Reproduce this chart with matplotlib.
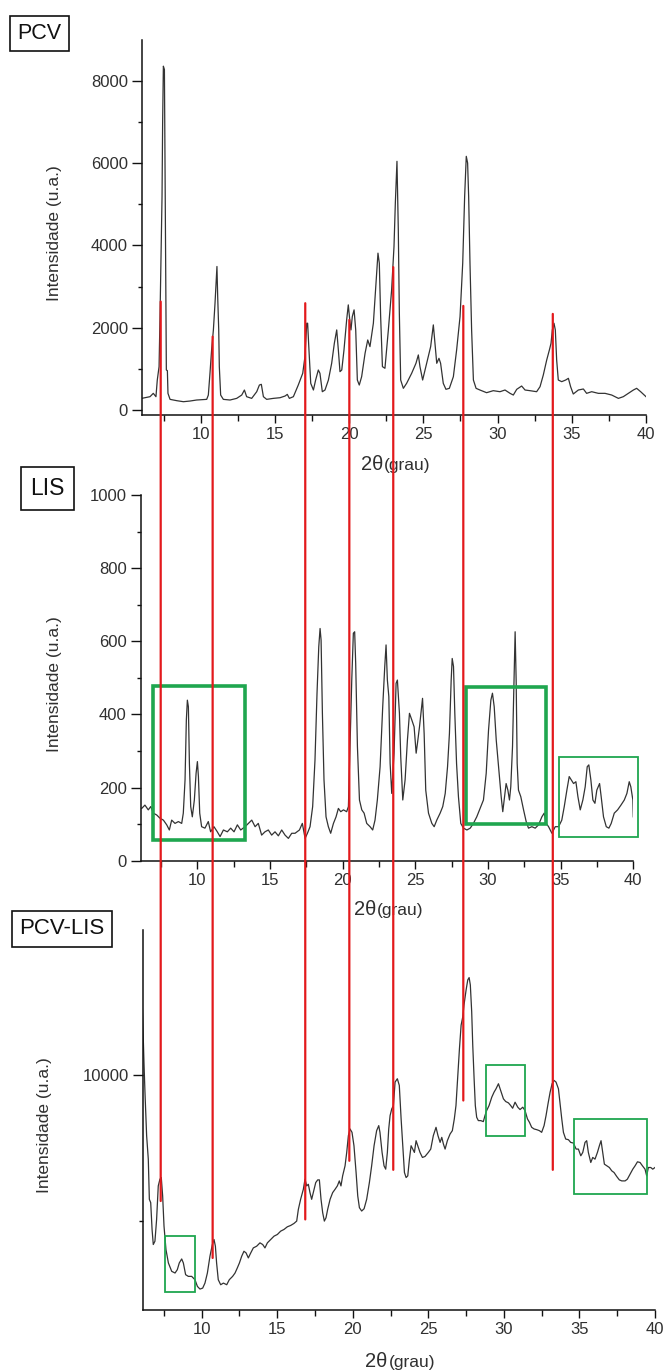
import matplotlib
matplotlib.use("Agg")
import matplotlib.pyplot as plt
from matplotlib.patches import Rectangle, ConnectionPatch
from matplotlib.ticker import MultipleLocator
from matplotlib.transforms import blended_transform_factory

plt.rcParams["font.family"] = ["Liberation Sans", "DejaVu Sans"]

# ---------------- PCV diffractogram ----------------
pcv_2theta = [
    6.02, 6.58, 6.80, 6.98, 7.07, 7.19, 7.25, 7.32, 7.39, 7.43,
    7.48, 7.55, 7.59, 7.63, 7.68, 7.75, 7.79, 7.93, 8.38, 8.83,
    9.27, 9.72, 10.40, 10.51, 10.62, 10.73, 10.85, 10.96, 11.03, 11.09,
    11.14, 11.21, 11.25, 11.34, 11.52, 11.97, 12.42, 12.76, 12.94, 13.09,
    13.43, 13.77, 13.95, 14.08, 14.22, 14.44, 14.89, 15.34, 15.68, 15.83,
    15.97, 16.24, 16.57, 16.87, 17.02, 17.14, 17.20, 17.29, 17.41, 17.59,
    17.74, 17.92, 18.03, 18.19, 18.37, 18.60, 18.82, 19.00, 19.16, 19.27,
    19.38, 19.50, 19.65, 19.83, 19.94, 20.06, 20.12, 20.21, 20.33, 20.44,
    20.55, 20.68, 20.84, 21.07, 21.25, 21.40, 21.63, 21.81, 21.94, 22.03,
    22.12, 22.24, 22.41, 22.64, 22.86, 23.02, 23.11, 23.22, 23.31, 23.38,
    23.47, 23.65, 23.87, 24.21, 24.50, 24.66, 24.77, 24.95, 25.22, 25.49,
    25.67, 25.78, 25.90, 26.05, 26.16, 26.34, 26.52, 26.75, 27.02, 27.24,
    27.47, 27.65, 27.78, 27.89, 27.98, 28.05, 28.14, 28.25, 28.37, 28.55,
    28.81, 29.26, 29.71, 30.16, 30.50, 30.84, 31.06, 31.29, 31.62, 31.85,
    32.18, 32.63, 32.86, 33.08, 33.31, 33.49, 33.60, 33.69, 33.80, 33.89,
    33.98, 34.09, 34.32, 34.59, 34.77, 34.92, 35.10, 35.44, 35.78, 36.00,
    36.34, 36.79, 37.24, 37.69, 38.14, 38.47, 38.81, 39.15, 39.37, 39.64,
    40.00,
]
pcv_intensity = [
    284, 325, 406, 325, 730, 1055, 2190, 3731, 5190, 6975,
    8354, 8273, 6002, 3569, 973, 958, 406, 260, 228, 203,
    219, 244, 260, 365, 893, 1460, 1947, 2596, 3082, 3488,
    2758, 1947, 1055, 365, 260, 244, 284, 365, 487, 325,
    284, 446, 608, 625, 325, 260, 284, 300, 341, 381,
    284, 325, 608, 893, 1298, 2109, 2109, 1460, 649, 487,
    730, 973, 893, 446, 487, 730, 1136, 1622, 1947, 1460,
    933, 973, 1460, 2190, 2555, 2109, 1947, 2271, 2434, 1947,
    730, 608, 811, 1379, 1703, 1541, 2109, 3082, 3812, 3569,
    2271, 1055, 1015, 1947, 2920, 3974, 5029, 6043, 4380, 2353,
    730, 528, 649, 893, 1136, 1339, 1055, 730, 1136, 1541,
    2069, 1622, 1136, 1257, 1136, 649, 504, 528, 811, 1460,
    2271, 3569, 5191, 6164, 6002, 5191, 3569, 1947, 730, 528,
    487, 422, 471, 446, 487, 406, 365, 504, 584, 487,
    471, 446, 568, 852, 1217, 1460, 1622, 1947, 2109, 1947,
    1217, 730, 690, 730, 771, 568, 390, 487, 512, 406,
    446, 406, 406, 365, 284, 325, 406, 487, 528, 446,
    325,
]

# ---------------- LIS diffractogram ----------------
lis_2theta = [
    6.18, 6.40, 6.63, 6.80, 6.98, 7.21, 7.44, 7.67, 7.90, 8.08,
    8.24, 8.47, 8.70, 8.93, 9.04, 9.16, 9.25, 9.32, 9.39, 9.46,
    9.55, 9.66, 9.80, 9.92, 10.01, 10.08, 10.17, 10.30, 10.53, 10.76,
    10.92, 11.15, 11.38, 11.57, 11.80, 12.07, 12.30, 12.53, 12.76, 12.99,
    13.29, 13.52, 13.75, 13.98, 14.20, 14.43, 14.66, 14.89, 15.12, 15.35,
    15.58, 15.81, 16.04, 16.27, 16.50, 16.73, 17.03, 17.23, 17.42, 17.58,
    17.76, 17.94, 18.10, 18.24, 18.36, 18.45, 18.52, 18.61, 18.72, 18.86,
    19.02, 19.18, 19.37, 19.55, 19.71, 19.87, 20.06, 20.28, 20.40, 20.51,
    20.63, 20.74, 20.83, 20.90, 21.02, 21.16, 21.32, 21.48, 21.66, 21.89,
    22.07, 22.23, 22.39, 22.58, 22.76, 22.90, 22.99, 23.08, 23.18, 23.27,
    23.38, 23.54, 23.68, 23.77, 23.91, 24.00, 24.14, 24.30, 24.46, 24.60,
    24.76, 24.92, 25.06, 25.15, 25.29, 25.50, 25.61, 25.72, 25.91, 26.14,
    26.30, 26.48, 26.71, 26.89, 27.06, 27.22, 27.35, 27.47, 27.54, 27.63,
    27.72, 27.84, 27.97, 28.13, 28.32, 28.55, 28.78, 29.00, 29.23, 29.46,
    29.69, 29.88, 30.04, 30.20, 30.31, 30.43, 30.57, 30.73, 30.91, 31.02,
    31.14, 31.25, 31.37, 31.48, 31.57, 31.69, 31.80, 31.87, 31.94, 32.01,
    32.10, 32.26, 32.45, 32.63, 32.79, 33.02, 33.25, 33.48, 33.71, 33.87,
    34.01, 34.17, 34.40, 34.63, 34.86, 35.08, 35.25, 35.43, 35.59, 35.73,
    35.89, 36.05, 36.19, 36.35, 36.53, 36.69, 36.83, 36.94, 37.08, 37.22,
    37.36, 37.49, 37.68, 37.79, 37.95, 38.14, 38.32, 38.48, 38.69, 38.92,
    39.15, 39.38, 39.56, 39.72, 39.83, 39.97, 40.00,
]
lis_intensity = [
    143, 152, 139, 148, 130, 125, 116, 111, 98, 84,
    111, 102, 107, 102, 130, 221, 385, 439, 421, 266,
    148, 120, 166, 239, 271, 230, 130, 93, 89, 107,
    79, 93, 79, 66, 84, 79, 89, 79, 98, 84,
    93, 102, 111, 93, 102, 70, 79, 84, 70, 79,
    68, 84, 70, 61, 75, 75, 84, 102, 61, 75,
    93, 148, 275, 458, 585, 635, 603, 403, 221, 120,
    93, 75, 102, 120, 143, 134, 139, 134, 148, 312,
    494, 622, 626, 540, 312, 166, 139, 130, 102, 93,
    84, 111, 166, 257, 421, 531, 590, 494, 449, 266,
    184, 294, 485, 494, 403, 284, 166, 221, 330, 403,
    385, 366, 294, 321, 366, 444, 348, 193, 130, 102,
    93, 111, 130, 148, 184, 257, 348, 494, 553, 531,
    403, 266, 175, 102, 89, 84, 89, 102, 120, 143,
    166, 239, 357, 439, 458, 421, 330, 257, 175, 134,
    175, 211, 193, 166, 202, 312, 512, 626, 494, 266,
    193, 175, 139, 107, 89, 93, 89, 98, 120, 130,
    102, 93, 75, 93, 93, 111, 148, 193, 230, 221,
    211, 216, 175, 139, 166, 202, 257, 262, 221, 166,
    157, 193, 211, 175, 120, 93, 89, 102, 130, 139,
    152, 166, 184, 216, 202, 166, 120,
]

# ---------------- PCV-LIS diffractogram ----------------
mix_2theta = [
    6.03, 6.10, 6.19, 6.25, 6.36, 6.47, 6.54, 6.63, 6.72, 6.80,
    6.91, 7.02, 7.13, 7.24, 7.33, 7.42, 7.51, 7.64, 7.80, 8.02,
    8.24, 8.39, 8.52, 8.68, 8.79, 8.94, 9.12, 9.34, 9.56, 9.72,
    9.89, 10.07, 10.22, 10.38, 10.55, 10.71, 10.82, 10.91, 10.99, 11.10,
    11.26, 11.44, 11.66, 11.83, 12.05, 12.21, 12.36, 12.50, 12.65, 12.80,
    12.94, 13.09, 13.25, 13.42, 13.64, 13.86, 14.04, 14.19, 14.35, 14.57,
    14.79, 15.01, 15.23, 15.45, 15.67, 15.89, 16.11, 16.29, 16.40, 16.55,
    16.73, 16.84, 16.95, 17.06, 17.17, 17.28, 17.39, 17.55, 17.68, 17.79,
    17.90, 18.01, 18.12, 18.23, 18.34, 18.50, 18.67, 18.83, 18.98, 19.11,
    19.22, 19.33, 19.49, 19.60, 19.71, 19.82, 19.95, 20.08, 20.22, 20.33,
    20.44, 20.59, 20.75, 20.92, 21.10, 21.25, 21.41, 21.58, 21.72, 21.80,
    21.94, 22.07, 22.18, 22.29, 22.38, 22.47, 22.58, 22.69, 22.80, 22.95,
    23.08, 23.20, 23.31, 23.42, 23.53, 23.64, 23.75, 23.86, 23.97, 24.08,
    24.19, 24.30, 24.45, 24.61, 24.78, 25.00, 25.16, 25.33, 25.51, 25.64,
    25.78, 25.89, 26.00, 26.11, 26.26, 26.44, 26.59, 26.72, 26.83, 26.95,
    27.06, 27.17, 27.28, 27.36, 27.50, 27.61, 27.70, 27.78, 27.87, 27.94,
    28.03, 28.11, 28.20, 28.31, 28.47, 28.64, 28.75, 28.86, 29.02, 29.20,
    29.35, 29.48, 29.64, 29.75, 29.86, 29.97, 30.12, 30.30, 30.45, 30.58,
    30.74, 30.92, 31.07, 31.25, 31.40, 31.56, 31.69, 31.84, 32.00, 32.17,
    32.35, 32.50, 32.66, 32.79, 32.92, 33.06, 33.19, 33.32, 33.45, 33.61,
    33.72, 33.83, 33.94, 34.09, 34.27, 34.42, 34.60, 34.78, 34.93, 35.09,
    35.22, 35.37, 35.48, 35.59, 35.75, 35.88, 36.03, 36.19, 36.32, 36.43,
    36.54, 36.65, 36.81, 36.98, 37.14, 37.29, 37.47, 37.64, 37.80, 38.02,
    38.17, 38.35, 38.53, 38.68, 38.84, 39.01, 39.17, 39.34, 39.45, 39.56,
    39.72, 39.85, 40.00,
]
mix_intensity = [
    13104, 11955, 10346, 9426, 7932, 7127, 5748, 5633, 4714, 4197,
    4311, 5058, 6208, 6438, 6495, 5863, 4829, 4024, 3564, 3277,
    3219, 3334, 3564, 3702, 3564, 3162, 3104, 3104, 2989, 2760,
    2668, 2702, 2874, 3219, 3794, 4197, 4369, 4139, 3564, 2989,
    2817, 2874, 2817, 2989, 3104, 3219, 3392, 3564, 3794, 3966,
    3909, 3737, 3909, 4081, 4139, 4254, 4197, 4081, 4254, 4369,
    4484, 4541, 4656, 4714, 4805, 4851, 4920, 5001, 5403, 5748,
    6093, 6438, 6208, 6265, 5978, 5748, 5978, 6323, 6415, 6415,
    5748, 5288, 5001, 5116, 5403, 5748, 5978, 6093, 6208, 6380,
    6208, 6553, 6897, 7357, 7932, 8162, 8047, 7587, 6668, 5863,
    5461, 5346, 5426, 5748, 6323, 6897, 7587, 8104, 8277, 8047,
    7357, 6897, 6783, 7357, 8162, 8621, 8851, 8966, 9771, 9886,
    9656, 8507, 7587, 6668, 6495, 6553, 7127, 7587, 7472, 7357,
    7760, 7587, 7357, 7185, 7219, 7357, 7472, 7932, 8219, 7932,
    7702, 7874, 7644, 7472, 7760, 7989, 8104, 8507, 8966, 10001,
    10920, 11725, 12012, 12415, 12932, 13277, 13357, 13104, 12185, 11035,
    9886, 8966, 8564, 8449, 8449, 8415, 8621, 8794, 8966, 9254,
    9426, 9541, 9714, 9541, 9369, 9196, 9104, 9058, 8966, 8874,
    9081, 8909, 8828, 8909, 8794, 8507, 8392, 8219, 8162, 8139,
    8104, 8047, 8277, 8621, 9024, 9426, 9714, 9828, 9771, 9541,
    9024, 8507, 8047, 7817, 7794, 7702, 7679, 7472, 7472, 7242,
    7357, 7702, 7760, 7357, 7012, 7185, 7127, 7357, 7587, 7760,
    7357, 6955, 6897, 6840, 6725, 6668, 6530, 6415, 6380, 6380,
    6438, 6610, 6783, 6897, 7035, 7012, 6897, 6783, 6553, 6840,
    6840, 6783, 6840,
]

# Reference reflections of PCV carried down through all patterns
ref_2theta = [7.30, 10.80, 17.04, 20.01, 22.97, 27.69, 33.72]
ref_top_pcv = [2635, 1783, 2596, 2190, 3472, 2530, 2336]
ref_bottom_mix = [5690, 3736, 5058, 7070, 6760, 9139, 6760]

# Highlighted regions: (2θ start, 2θ end, intensity low, intensity high)
lis_boxes_bold = [(6.98, 13.31, 57, 478), (28.50, 33.98, 99, 474)]
lis_boxes_thin = [(34.90, 40.29, 66, 284)]
mix_boxes = [(7.60, 9.56, 2566, 4483), (28.82, 31.40, 7910, 10345),
             (34.66, 39.46, 5921, 8507)]

panel_names = ["PCV", "LIS", "PCV-LIS"]
y_title = "Intensidade (u.a.)"

LINE_C = "#333333"
TXT_C = "#303030"
GREEN = "#1fa64f"
RED = "#e3191c"

W, H = 666, 1371
fig = plt.figure(figsize=(W / 100, H / 100), dpi=100)


def px_axes(left, top, right, bottom):
    return fig.add_axes([left / W, 1 - bottom / H, (right - left) / W, (bottom - top) / H])


ax1 = px_axes(142, 40, 646, 415)
ax2 = px_axes(141, 495, 633.3, 860.7)
ax3 = px_axes(142.7, 930, 655, 1310)


def style(ax, xlim, ylim, ymaj, ymin):
    for s in ("top", "right"):
        ax.spines[s].set_visible(False)
    for s in ("left", "bottom"):
        ax.spines[s].set_linewidth(1.1)
        ax.spines[s].set_color("#111111")
    ax.set_xlim(*xlim)
    ax.set_ylim(*ylim)
    ax.xaxis.set_major_locator(MultipleLocator(5))
    ax.xaxis.set_minor_locator(MultipleLocator(2.5))
    ax.yaxis.set_major_locator(MultipleLocator(ymaj))
    ax.yaxis.set_minor_locator(MultipleLocator(ymin))
    ax.tick_params(axis="x", which="major", direction="out", length=5.5, width=1.0,
                   pad=3.0, labelsize=12, labelcolor=TXT_C, color="#111111")
    ax.tick_params(axis="x", which="minor", direction="out", length=4.5, width=1.0,
                   color="#111111")
    ax.tick_params(axis="y", which="major", direction="out", length=7, width=1.0,
                   pad=3.2, labelsize=12, labelcolor=TXT_C, color="#111111")
    ax.tick_params(axis="y", which="minor", direction="out", length=3, width=1.0,
                   color="#111111")
    ax.set_facecolor("none")


def xtitle(ax, dy):
    ax.annotate("2θ", xy=(0.5, 0), xycoords="axes fraction", xytext=(-8, -dy),
                textcoords="offset points", ha="right", va="baseline",
                fontsize=14.5, color=TXT_C)
    ax.annotate("(grau)", xy=(0.5, 0), xycoords="axes fraction", xytext=(-7.5, -dy),
                textcoords="offset points", ha="left", va="baseline",
                fontsize=12.5, color=TXT_C)


def ytitle(ax, x, y):
    ax.set_ylabel(y_title, fontsize=12.5, color=TXT_C)
    ax.yaxis.label.set_va("center")
    ax.yaxis.set_label_coords(x, y)


# PCV
ax1.plot(pcv_2theta, pcv_intensity, color=LINE_C, lw=0.9)
style(ax1, (6.04, 40), (-120, 8990), 2000, 1000)
xtitle(ax1, 39.5)
ytitle(ax1, -0.173, 0.485)

# LIS
ax2.plot(lis_2theta, lis_intensity, color=LINE_C, lw=0.9)
style(ax2, (6.13, 40), (0, 1000), 200, 100)
xtitle(ax2, 39)
ytitle(ax2, -0.175, 0.483)
for x0, x1, y0, y1 in lis_boxes_bold:
    ax2.add_patch(Rectangle((x0, y0), x1 - x0, y1 - y0, fill=False, ec=GREEN,
                            lw=2.6, clip_on=False, zorder=3))
for x0, x1, y0, y1 in lis_boxes_thin:
    ax2.add_patch(Rectangle((x0, y0), x1 - x0, y1 - y0, fill=False, ec=GREEN,
                            lw=1.3, clip_on=False, zorder=3))

# PCV-LIS
ax3.plot(mix_2theta, mix_intensity, color=LINE_C, lw=0.9)
style(ax3, (6.1, 40), (1950, 14990), 10000, 5000)
xtitle(ax3, 41)
ytitle(ax3, -0.191, 0.487)
for x0, x1, y0, y1 in mix_boxes:
    ax3.add_patch(Rectangle((x0, y0), x1 - x0, y1 - y0, fill=False, ec=GREEN,
                            lw=1.3, clip_on=False, zorder=3))

# Vertical guide lines from the PCV reflections down to the mixture pattern
down = blended_transform_factory(ax1.transData, ax3.transData)
for x, yt, yb in zip(ref_2theta, ref_top_pcv, ref_bottom_mix):
    con = ConnectionPatch(xyA=(x, yt), coordsA=ax1.transData,
                          xyB=(x, yb), coordsB=down,
                          color=RED, lw=1.6, zorder=5)
    fig.add_artist(con)

# Sample names in boxes
name_pos = [(39.5, 33.5, 0.33), (47.5, 488.5, 0.42), (62, 929, 0.32)]
name_size = [15.5, 16.5, 16]
for name, (px, py, pad), fs in zip(panel_names, name_pos, name_size):
    fig.text(px / W, 1 - py / H, name, fontsize=fs, ha="center", va="center",
             color="#111111",
             bbox=dict(boxstyle=f"square,pad={pad}", fc="white", ec="#111111", lw=1.2))

fig.savefig("out.png", dpi=100)
